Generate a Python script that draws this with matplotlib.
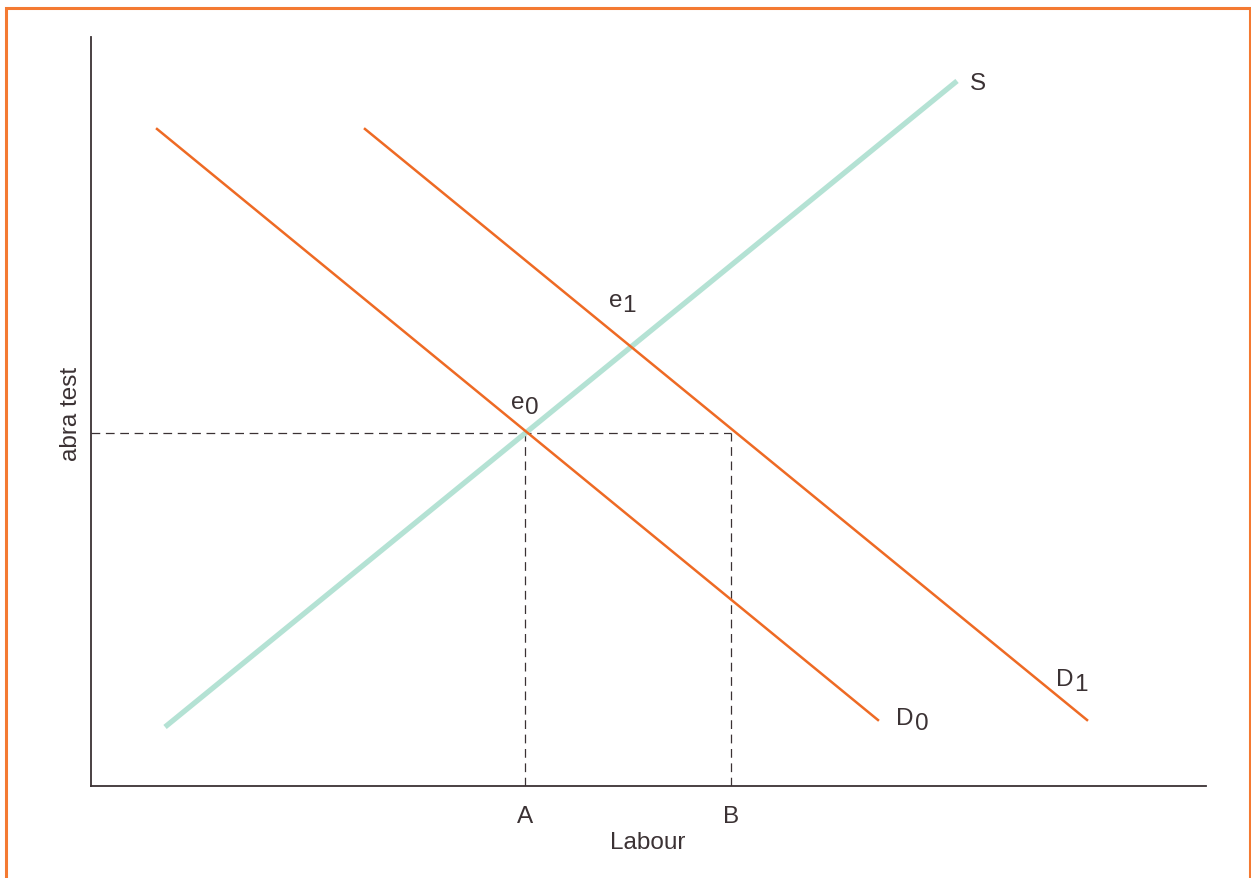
import matplotlib
matplotlib.use("Agg")
import matplotlib.pyplot as plt
from matplotlib.patches import Rectangle

plt.rcParams['font.family'] = ['Liberation Sans', 'DejaVu Sans']

# Data (normalised 0-100 units)
supply_x = [6.64, 77.67]
supply_y = [7.88, 94.13]
d0_x = [5.92, 70.58]
d0_y = [87.72, 8.81]
d1_x = [24.57, 89.33]
d1_y = [87.72, 8.81]
wage_level = 47.13
labour_ticks = [38.92, 57.40]
labour_labels = ['A', 'B']

ORANGE = '#ee6a24'
TEAL = '#b4e2d4'
TXT = '#3b3234'

W, H = 1251, 879
fig = plt.figure(figsize=(W / 100, H / 100), dpi=100)
ax = fig.add_axes([91 / W, (879 - 787) / H, (1206 - 91) / W, (787 - 38) / H])
ax.set_xlim(0, 100)
ax.set_ylim(0, 100)

def px(x, y):
    return (x - 91) / 1115 * 100, (787 - y) / 749 * 100

# border
fig.patches.append(Rectangle((6 / W, -0.05), (1250 - 6) / W, (879 - 9) / H + 0.05,
                             transform=fig.transFigure, fill=False,
                             edgecolor='#f47a32', lw=2.2, zorder=0))

for s in ['top', 'right']:
    ax.spines[s].set_visible(False)
for s in ['left', 'bottom']:
    ax.spines[s].set_color(TXT)
    ax.spines[s].set_linewidth(1.3)

dash = dict(color=TXT, lw=0.9, dashes=(7, 4.5))
ax.plot([0, labour_ticks[1]], [wage_level, wage_level], **dash)
for xv in labour_ticks:
    ax.plot([xv, xv], [0, wage_level], **dash)

ax.plot(supply_x, supply_y, color=TEAL, lw=3.8, solid_capstyle='butt', zorder=2)
ax.plot(d0_x, d0_y, color=ORANGE, lw=1.8, zorder=3)
ax.plot(d1_x, d1_y, color=ORANGE, lw=1.8, zorder=3)

fs = 17.5
def lbl(jx, jy, main, sub=None):
    x, y = px(jx, jy)
    if sub is None:
        ax.text(x, y, main, fontsize=fs, color=TXT, ha='center', va='center', clip_on=False)
        return
    ax.text(x, y, main, fontsize=fs, color=TXT, ha='right', va='center', clip_on=False)
    x2, y2 = px(jx + 0.5, jy + 5)
    ax.text(x2, y2, sub, fontsize=fs, color=TXT, ha='left', va='center', clip_on=False)

lbl(978, 84, 'S')
lbl(622, 301, 'e', '1')
lbl(525, 403, 'e', '0')
lbl(914, 719, 'D', '0')
lbl(1074, 680, 'D', '1')

ax.set_xticks(labour_ticks)
ax.set_xticklabels(labour_labels, fontsize=fs, color=TXT)
ax.tick_params(axis='x', length=0, pad=14)
ax.set_yticks([])
ax.set_xlabel('Labour', fontsize=fs, color=TXT)
ax.xaxis.set_label_coords((648 - 91) / 1115, -(832 - 787) / 749)
ax.set_ylabel('abra test', fontsize=fs, color=TXT)
ax.yaxis.set_label_coords(-(91 - 82) / 1115, (787 - 414) / 749)

fig.savefig('out.png', dpi=100)
